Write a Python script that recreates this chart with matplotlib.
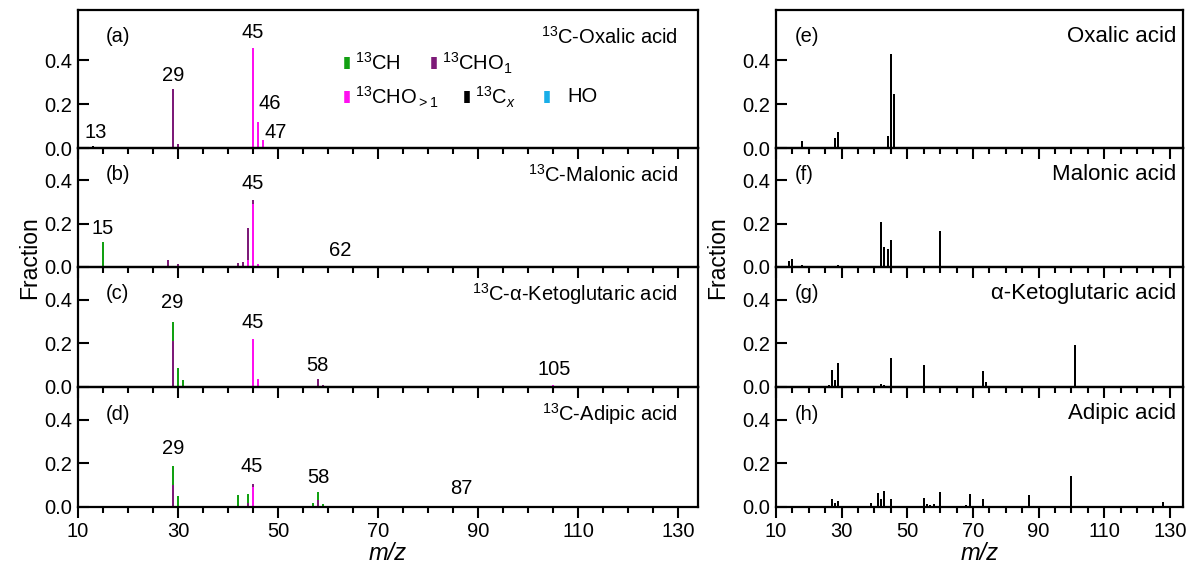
import matplotlib
matplotlib.use('Agg')
import matplotlib.pyplot as plt
import numpy as np

plt.rcParams['font.family'] = ['Liberation Sans', 'DejaVu Sans']
plt.rcParams['mathtext.fontset'] = 'custom'
plt.rcParams['mathtext.rm'] = 'Liberation Sans'
plt.rcParams['mathtext.it'] = 'Liberation Sans:italic'
plt.rcParams['font.size'] = 14.5

# colours of the ion families
c_ch = '#12a012'
c_cho1 = '#7d1a78'
c_chogt1 = '#ff10f0'
c_cx = '#000000'
c_ho = '#19aee8'

# ---- left column: 13C labelled acids, stacked by ion family ----
a_mz = [13, 29, 30, 45, 46, 47]
a_ch = [0, 0, 0, 0, 0, 0]
a_cho1 = [0, 0.268, 0.018, 0, 0, 0]
a_chogt1 = [0, 0, 0, 0.457, 0.118, 0.035]
a_cx = [0.008, 0, 0, 0, 0, 0]

b_mz = [13, 15, 18, 28, 30, 42, 43, 44, 45, 46, 62]
b_ch = [0, 0.115, 0, 0, 0, 0, 0, 0, 0, 0, 0]
b_cho1 = [0, 0, 0.003, 0.031, 0.012, 0.018, 0.023, 0.147, 0.018, 0, 0]
b_chogt1 = [0, 0, 0, 0, 0, 0, 0, 0.033, 0.293, 0.015, 0.006]
b_cx = [0.005, 0, 0, 0, 0, 0, 0, 0, 0, 0, 0]

c_mz = [27, 29, 30, 31, 44, 45, 46, 58, 59, 76, 105]
c_ch_v = [0, 0.088, 0.089, 0.032, 0, 0, 0, 0, 0, 0, 0]
c_cho1_v = [0.003, 0.212, 0, 0, 0.005, 0, 0, 0.035, 0.009, 0.002, 0]
c_chogt1_v = [0, 0, 0, 0, 0, 0.22, 0.038, 0, 0, 0, 0.009]
c_cx_v = [0, 0, 0, 0, 0, 0, 0, 0, 0, 0, 0]

d_mz = [29, 30, 31, 42, 43, 44, 45, 46, 57, 58, 59, 62, 87]
d_ch = [0.09, 0.05, 0.006, 0.057, 0.004, 0.04, 0, 0, 0.018, 0.035, 0.015, 0, 0]
d_cho1 = [0.1, 0, 0, 0, 0, 0.02, 0.016, 0, 0, 0.034, 0, 0.002, 0.002]
d_chogt1 = [0, 0, 0, 0, 0, 0, 0.09, 0.004, 0, 0, 0, 0, 0]
d_cx = [0] * 13

# ---- right column: unlabelled acids ----
e_mz = [12, 13, 14, 17, 18, 28, 29, 44, 45, 46]
e_val = [0.003, 0.003, 0.002, 0.005, 0.034, 0.046, 0.074, 0.057, 0.43, 0.246]

f_mz = [14, 15, 18, 27, 28, 29, 31, 41, 42, 43, 44, 45, 60, 87]
f_val = [0.028, 0.035, 0.011, 0.004, 0.006, 0.008, 0.003, 0.005, 0.208, 0.092,
         0.083, 0.126, 0.165, 0.003]

g_mz = [12, 13, 14, 26, 27, 28, 29, 41, 42, 43, 44, 45, 55, 56, 73, 74, 101]
g_val = [0.002, 0.002, 0.002, 0.008, 0.078, 0.034, 0.112, 0.004, 0.012, 0.01,
         0.005, 0.133, 0.10, 0.003, 0.074, 0.023, 0.192]

h_mz = [27, 28, 29, 39, 41, 42, 43, 45, 55, 56, 57, 58, 60, 68, 69, 73, 82, 87,
        100, 101, 128]
h_val = [0.035, 0.02, 0.026, 0.02, 0.066, 0.038, 0.073, 0.035, 0.043, 0.012,
         0.008, 0.012, 0.069, 0.008, 0.058, 0.038, 0.004, 0.055, 0.14, 0.006, 0.023]

left_names = [r'$^{13}$C-Oxalic acid', r'$^{13}$C-Malonic acid',
              r'$^{13}$C-α-Ketoglutaric acid', r'$^{13}$C-Adipic acid']
right_names = ['Oxalic acid', 'Malonic acid', 'α-Ketoglutaric acid', 'Adipic acid']
left_tags = ['(a)', '(b)', '(c)', '(d)']
right_tags = ['(e)', '(f)', '(g)', '(h)']

left_data = [(a_mz, a_ch, a_cho1, a_chogt1, a_cx),
             (b_mz, b_ch, b_cho1, b_chogt1, b_cx),
             (c_mz, c_ch_v, c_cho1_v, c_chogt1_v, c_cx_v),
             (d_mz, d_ch, d_cho1, d_chogt1, d_cx)]
right_data = [(e_mz, e_val), (f_mz, f_val), (g_mz, g_val), (h_mz, h_val)]

# peak labels (text, x, y) in data units
peak_labels = [
    [('13', 13.5, 0.07), ('29', 29, 0.33), ('45', 45, 0.525), ('46', 48.3, 0.205), ('47', 49.6, 0.072)],
    [('15', 15, 0.178), ('45', 45, 0.386), ('62', 62.4, 0.077)],
    [('29', 28.8, 0.386), ('45', 45, 0.297), ('58', 57.9, 0.10), ('105', 105.2, 0.078)],
    [('29', 29, 0.27), ('45', 44.7, 0.185), ('58', 58, 0.135), ('87', 86.6, 0.086)],
]

W, H = 1191, 575
fig = plt.figure(figsize=(W / 100, H / 100), dpi=100)
edges = [10, 148, 267, 387, 507]
ytops = [0.63, 0.55, 0.55, 0.55]


def fy(p):
    return 1 - p / H


def style(ax, i, ytop):
    ax.set_facecolor('none')
    ax.set_xlim(10, 134)
    ax.set_ylim(0, ytop)
    ax.set_xticks(np.arange(10, 131, 20))
    ax.set_xticks(np.arange(10, 134, 5), minor=True)
    ax.set_yticks([0, 0.2, 0.4])
    ax.set_yticklabels(['0.0', '0.2', '0.4'])
    ax.tick_params(axis='x', which='major', direction='out', length=8, width=1.5, pad=3,
                   labelsize=14.5)
    ax.tick_params(axis='x', which='minor', direction='out', length=4.5, width=1.5)
    ax.tick_params(axis='y', direction='in', length=8, width=1.5, pad=4, labelsize=14.5)
    if i < 3:
        ax.tick_params(axis='x', labelbottom=False)
    for s in ax.spines.values():
        s.set_linewidth(1.6)


for i in range(4):
    bot = fy(edges[i + 1])
    h = fy(edges[i]) - bot

    # left column
    ax = fig.add_axes([78 / W, bot, 620 / W, h])
    style(ax, i, ytops[i])
    mz, ch, cho1, chogt1, cx = left_data[i]
    base = np.zeros(len(mz))
    for vals, col in [(chogt1, c_chogt1), (cho1, c_cho1), (ch, c_ch), (cx, c_cx)]:
        ax.bar(mz, vals, width=0.5, bottom=base, color=col, linewidth=0)
        base = base + np.array(vals)
    for t, x, y in peak_labels[i]:
        ax.text(x, y, t, ha='center', va='center')
    ax.annotate(left_tags[i], xy=(0, 1), xycoords='axes fraction', xytext=(28, -27),
                textcoords='offset pixels', ha='left', va='center')
    ax.annotate(left_names[i], xy=(1, 1), xycoords='axes fraction', xytext=(-20, -27),
                textcoords='offset pixels', ha='right', va='center', fontsize=14.5)
    if i == 0:
        leg = [(0.434, 0.616, c_ch, r'$^{13}$CH'),
               (0.574, 0.616, c_cho1, r'$^{13}$CHO$_1$'),
               (0.434, 0.37, c_chogt1, r'$^{13}$CHO$_{>1}$'),
               (0.627, 0.37, c_cx, r'$^{13}$C$_x$'),
               (0.756, 0.37, c_ho, 'HO')]
        for lx, ly, col, lab in leg:
            ax.plot([lx], [ly], marker='|', markersize=9, mew=4, color=col,
                    transform=ax.transAxes)
            gap = 0.034 if lab == 'HO' else 0.013
            ax.text(lx + gap, ly, lab, transform=ax.transAxes, ha='left', va='center')

    # right column
    ax = fig.add_axes([776 / W, bot, 407 / W, h])
    style(ax, i, ytops[i])
    mz, vals = right_data[i]
    ax.bar(mz, vals, width=0.6, color='black', linewidth=0)
    ax.annotate(right_tags[i], xy=(0, 1), xycoords='axes fraction', xytext=(19, -27),
                textcoords='offset pixels', ha='left', va='center')
    ax.annotate(right_names[i], xy=(1, 1), xycoords='axes fraction', xytext=(-7, -27),
                textcoords='offset pixels', ha='right', va='center', fontsize=16)

fig.text(30 / W, fy(258), 'Fraction', rotation=90, ha='center', va='center', fontsize=16.5)
fig.text(718 / W, fy(258), 'Fraction', rotation=90, ha='center', va='center', fontsize=16.5)
fig.text(388 / W, fy(553), 'm/z', style='italic', ha='center', va='center', fontsize=17)
fig.text(980 / W, fy(553), 'm/z', style='italic', ha='center', va='center', fontsize=17)

fig.savefig('out.png', dpi=100)
